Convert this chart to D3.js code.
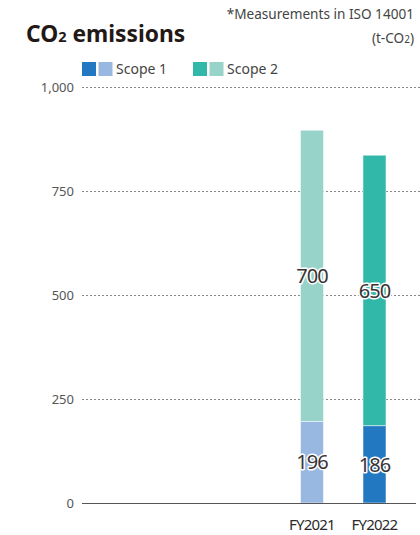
<!DOCTYPE html>
<html>
<head>
<meta charset="utf-8">
<script src="https://cdn.jsdelivr.net/npm/d3@7"></script>
<style>
  html, body { margin: 0; padding: 0; background: #fff; }
  svg { display: block; font-family: "Noto Sans", "Open Sans", sans-serif; }
</style>
</head>
<body>
<svg id="chart" width="420" height="535"></svg>
<script>
// Fiscal years and emissions (t-CO2) per scope
const years = ["FY2021", "FY2022"];
const scope1 = [196, 186];
const scope2 = [700, 650];
const yTicks = [0, 250, 500, 750, 1000];
// Each year has its own shade pair: [scope1, scope2]
const barColors = [["#98b8e2", "#97d3c9"], ["#2379c1", "#31b8a9"]];
const legendItems = [
  { label: "Scope 1", colors: ["#2379c1", "#98b8e2"] },
  { label: "Scope 2", colors: ["#31b8a9", "#97d3c9"] }
];

const svg = d3.select("#chart");
const plotLeft = 82, plotRight = 420;

const y = d3.scaleLinear().domain([0, 1000]).range([503, 87]);
const x = d3.scalePoint().domain(years).range([312, 374.5]);
const barW = 23;

// Title block
const title = svg.append("text").attr("x", 26).attr("y", 42)
  .attr("font-size", 22.8).attr("font-weight", 700).attr("fill", "#231815");
title.append("tspan").text("CO");
title.append("tspan").attr("font-size", 14.5).text("2");
title.append("tspan").text(" emissions");

svg.append("text").attr("x", 414).attr("y", 19).attr("text-anchor", "end")
  .attr("font-size", 13.6).attr("fill", "#444").text("*Measurements in ISO 14001");
const unit = svg.append("text").attr("x", 414).attr("y", 43).attr("text-anchor", "end")
  .attr("font-size", 13.6).attr("fill", "#444");
unit.append("tspan").text("(t-CO");
unit.append("tspan").attr("font-size", 10).text("2");
unit.append("tspan").text(")");

// Legend
const legend = svg.append("g");
const legendX = [82, 193];
legendItems.forEach((item, i) => {
  const g = legend.append("g").attr("transform", `translate(${legendX[i]},62)`);
  item.colors.forEach((c, j) => {
    g.append("rect").attr("x", j * 16.5).attr("y", 0).attr("width", 14).attr("height", 14).attr("fill", c);
  });
  g.append("text").attr("x", 34).attr("y", 12).attr("font-size", 14).attr("fill", "#444").text(item.label);
});

// Y axis with dotted gridlines
const yAxis = d3.axisLeft(y).tickValues(yTicks).tickSize(0).tickPadding(8)
  .tickFormat(d3.format(","));
const yg = svg.append("g").attr("transform", `translate(${plotLeft},0)`).call(yAxis);
yg.select(".domain").remove();
yg.selectAll(".tick text").attr("font-size", 13).attr("fill", "#555")
  .attr("font-family", "Noto Sans, sans-serif");

svg.append("g").selectAll("line").data(yTicks.filter(d => d > 0)).join("line")
  .attr("x1", plotLeft).attr("x2", plotRight)
  .attr("y1", d => y(d) + 0.5).attr("y2", d => y(d) + 0.5)
  .attr("stroke", "#888").attr("stroke-width", 1).attr("stroke-dasharray", "2,2");

// Stacked bars
const stacked = years.map((yr, i) => ({ yr, i, s1: scope1[i], s2: scope2[i] }));
const bars = svg.append("g");
stacked.forEach(d => {
  const cx = x(d.yr);
  bars.append("rect").attr("x", cx - barW / 2).attr("width", barW)
    .attr("y", y(d.s1)).attr("height", y(0) - y(d.s1))
    .attr("fill", barColors[d.i][0]).attr("stroke", "#fff").attr("stroke-opacity", 0.5).attr("stroke-width", 1);
  bars.append("rect").attr("x", cx - barW / 2).attr("width", barW)
    .attr("y", y(d.s1 + d.s2)).attr("height", y(d.s1) - y(d.s1 + d.s2))
    .attr("fill", barColors[d.i][1]).attr("stroke", "#fff").attr("stroke-opacity", 0.5).attr("stroke-width", 1);
});

// Baseline
svg.append("line").attr("x1", plotLeft).attr("x2", 416)
  .attr("y1", y(0) + 0.5).attr("y2", y(0) + 0.5).attr("stroke", "#555").attr("stroke-width", 1.2);

// Value labels with white halo
const labels = svg.append("g").attr("font-size", 20).attr("text-anchor", "middle")
  .attr("letter-spacing", "-1");
stacked.forEach(d => {
  const cx = x(d.yr);
  [[d.s1, (y(0) + y(d.s1)) / 2], [d.s2, (y(d.s1) + y(d.s1 + d.s2)) / 2]].forEach(([v, cy]) => {
    labels.append("text").attr("x", cx).attr("y", cy).attr("dy", "0.36em")
      .attr("stroke", "#fff").attr("stroke-width", 3).attr("stroke-linejoin", "round")
      .attr("fill", "#fff").text(v);
    labels.append("text").attr("x", cx).attr("y", cy).attr("dy", "0.36em")
      .attr("fill", "#3a3333").text(v);
  });
});

// Category labels
svg.append("g").selectAll("text").data(years).join("text")
  .attr("x", d => x(d)).attr("y", 530).attr("text-anchor", "middle")
  .attr("font-size", 15).attr("fill", "#2a2a2a").attr("letter-spacing", "-0.8").text(d => d);
</script>
</body>
</html>
